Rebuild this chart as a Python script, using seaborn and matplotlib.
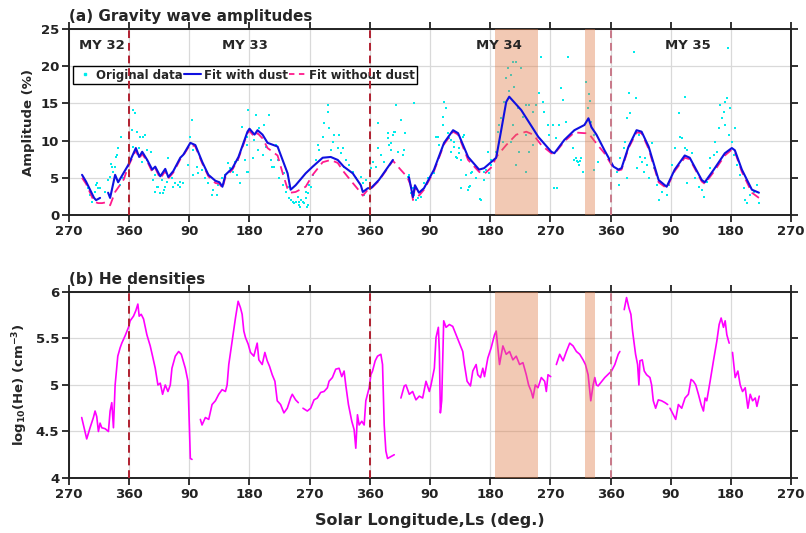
import numpy as np
import pandas as pd
import matplotlib
import matplotlib.pyplot as plt
from matplotlib.lines import Line2D
import seaborn as sns


matplotlib.use('Agg')

nan = np.nan

# cumulative solar longitude (deg.): 270 = MY 32 Ls 270, 360 = MY 33 start, ...
gw_ls = [
    301.5, 298.5, 304.5, 312, 313.5, 324, 328.5, 331.5, 334.5, 342,
    343.5, 348, 339, 336, 351, 346.5, 316.5, 311, 309, 333,
    341, 366, 369, 372, 376.5, 381, 384, 375, 379.5, 387,
    393, 399, 399, 406.5, 409.5, 414, 418.5, 424.5, 429, 433.5,
    436.5, 441, 403.5, 411, 364.5, 366, 387, 396, 402, 412,
    417, 426, 436.5, 454.5, 451.5, 456, 448.5, 456, 462, 463.5,
    469.5, 474, 478.5, 484.5, 486, 492, 493.5, 499.5, 504, 508.5,
    511.5, 516, 519, 522, 523.5, 526.5, 529.5, 534, 537, 537,
    538.5, 549, 561, 568.5, 536, 546, 552, 564, 571.5, 576,
    582, 591, 597, 601.5, 606, 616.5, 621, 627, 631.5, 615,
    612, 628, 553.5, 544.5, 538.5, 559.5, 573, 579, 583.5, 589.5,
    594, 598.5, 604.5, 609, 613.5, 619.5, 613.5, 624, 626, 624,
    628.5, 634.5, 639, 642, 643.5, 649.5, 651, 657, 658, 658.5,
    664.5, 661.5, 666, 672, 673.5, 676.5, 679.5, 681, 684, 688.5,
    694.5, 699, 706.5, 709.5, 711, 714, 721.5, 724.5, 729, 732,
    736.5, 741, 747, 748.5, 751.5, 754.5, 756, 759, 762, 771,
    778.5, 784.5, 786, 792, 796.5, 801, 807, 758, 772, 766.5,
    741, 786, 732, 747, 751.5, 770, 777, 781.5, 789, 797,
    816, 822, 829.5, 831, 837, 841.5, 846, 849, 853.5, 859.5,
    856.5, 867, 868.5, 867, 871.5, 879, 886.5, 891, 894, 901.5,
    898.5, 819, 823.5, 829.5, 834, 838.5, 841.5, 846, 850, 853.5,
    861, 856.5, 864, 870, 873, 879, 885, 891, 897, 901.5,
    909, 912, 916.5, 921, 924, 927, 931.5, 934.5, 939, 936,
    928.5, 946.5, 942, 949.5, 954, 958.5, 964.5, 969, 976.5, 973.5,
    979.5, 981, 987, 988.5, 994.5, 999, 996, 1006.5, 1009.5, 1014,
    1017, 1003.5, 1024.5, 1029, 1032, 1033.5, 1036.5, 1039.5, 1044, 1047,
    1048.5, 1051.5, 1056, 1062, 954, 958.5, 964.5, 943.5, 954, 934.5,
    931.5, 919.5, 913.5, 939, 1000, 1050, 1026, 1030.5, 1035, 1056,
    1089, 1092, 1093.5, 1099.5, 1101, 1104, 1107, 1108.5, 1114.5, 1117.5,
    1122, 1123.5, 1126.5, 1129.5, 1131, 1134, 1137, 1141.5, 1144.5, 1149,
    1152, 1156.5, 1164, 1167, 1171.5, 1176, 1182, 1183.5, 1186.5, 1191,
    1191, 1194, 1201.5, 1194, 1206, 1212, 1216.5, 1219.5, 1224, 1228.5,
    1234.5, 1239, 1243.5, 1246.5, 1249.5, 1251, 1254, 1255.5, 1257, 1258.5,
    1261.5, 1264.5, 1266, 1269, 1273.5, 1279.5, 1281, 1284, 1288.5, 1294.5,
    1299, 1302, 1252, 1242, 1236, 1228.5, 1104, 1119,
]
gw_amp = [
    2.7, 3.6, 1.7, 4.3, 3.6, 3.1, 4.7, 5.1, 6.5, 8.1,
    9.0, 10.5, 6.5, 5.8, 5.0, 4.0, 3.6, 4.0, 3.1, 6.8,
    7.8, 14.1, 13.7, 11.2, 10.5, 10.5, 10.8, 9.0, 7.1, 8.7,
    8.5, 5.4, 3.1, 3.0, 4.7, 3.8, 7.7, 5.0, 4.3, 4.0,
    4.4, 4.3, 3.8, 3.0, 11.4, 9.2, 7.4, 4.7, 3.8, 3.4,
    4.4, 3.8, 3.8, 12.8, 10.5, 8.7, 6.7, 5.4, 6.5, 5.6,
    6.1, 5.0, 4.3, 2.7, 3.4, 2.7, 4.0, 5.0, 5.4, 7.0,
    6.3, 5.8, 7.1, 5.4, 7.4, 4.3, 11.8, 7.4, 5.8, 9.4,
    14.1, 13.5, 12.1, 13.5, 10.5, 10.1, 8.7, 9.2, 7.4, 6.5,
    7.4, 5.6, 3.8, 2.0, 1.6, 2.0, 1.6, 3.0, 3.8, 1.1,
    2.4, 1.3, 11.7, 7.7, 5.8, 8.1, 6.5, 9.4, 5.0, 4.0,
    3.1, 2.3, 1.7, 1.7, 1.7, 1.7, 1.3, 2.3, 1.1, 3.1,
    4.0, 5.4, 7.4, 9.4, 8.7, 10.5, 12.4, 14.8, 13.9, 11.7,
    9.8, 8.7, 10.8, 9.0, 10.8, 8.3, 9.0, 6.5, 7.4, 6.7,
    5.8, 5.0, 5.1, 4.3, 2.7, 4.7, 6.3, 7.1, 6.5, 9.0,
    8.1, 7.1, 10.4, 9.4, 8.7, 10.8, 11.2, 14.8, 8.5, 8.7,
    5.4, 3.6, 2.7, 2.3, 3.1, 4.3, 5.0, 11.2, 11.0, 12.8,
    19.9, 15.1, 12.4, 11.0, 9.7, 8.1, 5.1, 3.0, 2.0, 2.4,
    5.6, 10.5, 13.2, 15.2, 11.0, 10.1, 9.2, 7.8, 8.3, 10.5,
    7.4, 7.8, 3.8, 3.4, 5.6, 6.5, 2.0, 4.7, 6.1, 7.4,
    5.6, 10.5, 9.4, 12.1, 14.4, 10.4, 8.5, 9.8, 7.7, 9.0,
    10.8, 3.6, 5.4, 3.9, 5.8, 5.0, 2.1, 5.8, 8.5, 6.7,
    8.5, 11.2, 13.1, 15.2, 18.4, 19.8, 18.8, 20.5, 20.6, 17.2,
    16.6, 19.8, 14.4, 13.2, 14.8, 14.8, 13.9, 14.8, 21.3, 16.4,
    15.2, 13.9, 12.1, 10.8, 12.1, 10.4, 3.6, 17.1, 15.5, 12.5,
    21.3, 12.1, 9.0, 7.7, 7.1, 6.7, 7.7, 5.8, 17.9, 14.4,
    16.2, 12.5, 10.8, 7.1, 10.8, 8.5, 9.4, 8.5, 5.8, 12.1,
    9.8, 9.8, 12.1, 6.7, 3.6, 15.3, 7.4, 7.2, 7.3, 6.1,
    5.8, 4.0, 7.7, 9.0, 9.8, 13.1, 16.4, 13.7, 21.9, 15.7,
    10.8, 7.8, 7.1, 5.8, 7.7, 6.7, 5.0, 9.7, 6.3, 4.0,
    2.0, 3.1, 2.7, 4.0, 6.7, 9.0, 13.7, 10.5, 10.4, 15.9,
    9.0, 8.7, 8.3, 4.3, 5.0, 3.8, 3.4, 2.4, 4.4, 7.7,
    8.1, 8.5, 14.8, 13.1, 13.9, 12.1, 15.7, 22.5, 10.8, 14.4,
    9.8, 8.1, 11.7, 6.7, 5.4, 3.6, 2.0, 1.6, 2.7, 3.1,
    4.0, 1.6, 15.2, 11.7, 9.8, 6.3, 5.0, 6.3,
]

# fit with dust (nan = gap in the curve)
fit_dust_ls = [
    289.5, 295.5, 301.5, 307.5, 310.5, 316.5, nan,
    328.5, 331.5, 339, 343.5, 358.5, 370, 375, 379.5, 387, 394.5,
    399, 406.5, 414, 418.5, 426, 436.5, 441, 451.5, 459, 469.5,
    478.5, 489, 495, 499.5, 504, 514.5, 523.5, 537, 540, 547.5,
    552, 559.5, 567, 582, 597, 601.5, 609, 624, 634.5, 649.5,
    661.5, 672, 681, 694.5, 706.5, 709.5, 717, 721.5, 733.5, 754.5, nan,
    778.5, 784.5, 787.5, 793.5, 801, 816, 831, 844.5, 852, 867,
    883.5, 891, 909, 916.5, 924, 928.5, 946.5, 972, 991.5, 996,
    1011, 1026, 1041, 1047, 1051.5, 1059, 1071, 1084.5, 1092, 1096.5,
    1107, 1119, 1126.5, 1137, 1152, 1164, 1176, 1191, 1198.5, 1216.5,
    1221, 1234.5, 1251, 1261.5, 1266, 1276.5, 1291.5, 1302,
]
fit_dust_amp = [
    5.4, 4.5, 3.4, 2.3, 2.0, 2.3, nan,
    3.0, 2.3, 5.4, 4.4, 6.7, 9.0, 7.8, 8.5, 7.4, 6.1,
    6.5, 5.2, 6.2, 5.1, 5.9, 7.7, 8.1, 9.7, 9.4, 7.1,
    5.4, 4.6, 4.4, 3.8, 5.4, 6.3, 7.8, 11.2, 11.6, 10.8,
    11.4, 10.8, 9.7, 9.2, 5.6, 3.4, 4.0, 5.6, 6.5, 7.7,
    7.8, 7.4, 6.5, 5.6, 4.0, 3.1, 3.6, 3.6, 4.7, 7.4, nan,
    5.1, 2.4, 4.0, 3.0, 3.6, 6.1, 9.7, 11.4, 11.0, 7.8,
    6.1, 6.3, 7.7, 11.4, 15.2, 15.9, 14.1, 10.5, 8.5, 8.3,
    10.1, 11.4, 12.1, 13.0, 11.8, 10.8, 8.7, 6.5, 6.1, 6.3,
    9.2, 11.4, 11.2, 9.2, 4.7, 3.8, 6.1, 8.0, 7.7, 4.7,
    4.4, 6.1, 8.3, 9.0, 8.7, 6.1, 3.4, 3.0,
]

# fit without dust
fit_nodust_ls = [
    289.5, 295.5, 301.5, 307.5, 313.5, 319.5, 325, 331.5, 339, 346,
    352, 358.5, 370, 375, 379.5, 387, 394.5, 399, 406.5, 414,
    418.5, 426, 436.5, 441, 451.5, 459, 469.5, 478.5, 489, 495,
    499.5, 504, 514.5, 523.5, 537, 540, 547.5, 552, 559.5, 567,
    582, 590, 597, 601.5, 609, 624, 634.5, 649.5, 661.5, 672,
    681, 694.5, 706.5, 709.5, 717, 721.5, 733.5, 754.5, 766, 776,
    781, 784.5, 787.5, 793.5, 801, 816, 831, 844.5, 852, 867,
    883.5, 891, 903, 909, 924, 939, 954, 964.5, 976.5, 991.5,
    996, 1011, 1026, 1041, 1047, 1059, 1071, 1084.5, 1092, 1096.5,
    1107, 1119, 1126.5, 1137, 1152, 1164, 1176, 1191, 1198.5, 1216.5,
    1221, 1234.5, 1251, 1261.5, 1266, 1276.5, 1291.5, 1302,
]
fit_nodust_amp = [
    5.0, 4.2, 3.0, 1.8, 1.6, 1.6, 1.7, 1.3, 3.1, 4.0,
    4.8, 6.5, 8.7, 7.6, 8.2, 7.2, 5.8, 6.3, 4.9, 5.9,
    4.9, 5.7, 7.5, 8.0, 9.5, 9.2, 6.9, 5.2, 4.3, 4.2,
    3.6, 5.1, 6.1, 7.6, 11.0, 11.3, 10.5, 11.0, 10.3, 9.0,
    8.0, 5.5, 3.5, 3.0, 3.1, 3.8, 5.4, 7.1, 7.4, 7.0,
    5.8, 4.3, 3.0, 2.6, 3.4, 3.5, 4.6, 7.3, 6.1, 5.1,
    4.0, 2.0, 3.7, 2.6, 3.4, 5.9, 9.5, 11.2, 10.8, 7.4,
    5.8, 5.5, 6.5, 7.8, 9.4, 10.8, 11.2, 10.8, 9.4, 8.3,
    8.2, 9.9, 11.1, 11.0, 11.0, 9.6, 8.3, 6.3, 6.0, 6.1,
    9.0, 11.1, 11.0, 8.9, 4.4, 3.6, 5.9, 7.7, 7.5, 4.5,
    4.2, 5.8, 8.0, 8.8, 8.5, 5.8, 3.0, 2.3,
]

# log10 He density (nan = data gap)
he_ls = [
    289, 296.5, 301.5, 306.5, 309, 311.5, 314, 316.5, 319, 324,
    329, 331.5, 334, 336.5, 339, 343, 346.5, 349, 354, 359,
    361.5, 366.5, 370, 373, 375, 378, 381.5, 386.5, 391.5, 395,
    399, 403, 406.5, 410, 414, 418, 421.5, 424, 429, 434,
    438, 444, 448, 450, 451.5, 454, nan,
    466.5, 469, 474, 479, 484, 489, 494, 499, 504, 506.5,
    509, 514, 519, 523, 526.5, 529, 531.5, 534, 538, 541.5,
    546.5, 551.5, 554, 559, 563, 566.5, 570, 574, 578, 581.5,
    586.5, 591.5, 596.5, 601.5, 604, 609, 613, nan,
    620, 626.5, 631.5, 636.5, 641.5, 646.5, 651.5, 656.5, 659, 664,
    669, 674, 678, 681.5, 684, 688, 693, 696.5, 699, 701.5,
    704, 708, 711.5, 714, 719, 721.5, 724, 728, 731.5, 736.5,
    739, 741.5, 744, 746.5, 751.5, 756.5, nan,
    766.5, 771.5, 774, 779, 784, 789, 794, 799, 804, 809,
    811.5, 816.5, 819, 822.5, 824, 825.5, 827.5, 830.5, 834, 839,
    844, 849, 854, 859, 861.5, 865.5, 870.5, 874, 879, 881.5,
    885.5, 889, 891.5, 896.5, 901.5, 906.5, 909, 911.5, 914, 919,
    924, 929, 934, 939, 944, 949, 954, 957.5, 961.5, 964,
    967.5, 971.5, 976.5, 981.5, 984, 986.5, 990.5, nan,
    999, 1004, 1009, 1014, 1019, 1024, 1029, 1034, 1039, 1042.5,
    1046.5, 1050.5, 1054, 1056.5, 1059, 1061.5, 1071.5, 1081.5, 1086.5, 1091.5,
    1094, nan,
    1100.5, 1104, 1107.5, 1110.5, 1113, 1115.5, 1117.5, 1120.5, 1122.5, 1124,
    1127.5, 1130.5, 1134, 1139, 1141.5, 1144, 1147.5, 1151.5, 1156.5, 1161.5,
    1165.5, nan,
    1169, 1174, 1177.5, 1181.5, 1186.5, 1191.5, 1196.5, 1200.5, 1204, 1207.5,
    1211.5, 1215.5, 1219, 1221.5, 1224, 1229, 1234, 1239, 1242.5, 1245.5,
    1249, 1251.5, 1254, 1257.5, nan,
    1262.5, 1266.5, 1270.5, 1274, 1277.5, 1281.5, 1285.5, 1289, 1292.5, 1296.5,
    1299, 1302.5,
]
he_log = [
    4.65, 4.42, 4.54, 4.65, 4.72, 4.66, 4.50, 4.59, 4.54, 4.53,
    4.50, 4.72, 4.81, 4.54, 5.00, 5.31, 5.40, 5.45, 5.53, 5.62,
    5.69, 5.74, 5.80, 5.87, 5.74, 5.76, 5.71, 5.54, 5.42, 5.31,
    5.18, 5.00, 5.02, 4.90, 5.00, 4.93, 5.00, 5.18, 5.31, 5.36,
    5.33, 5.18, 5.04, 4.57, 4.21, 4.20, nan,
    4.63, 4.57, 4.65, 4.63, 4.79, 4.83, 4.90, 4.95, 4.93, 5.00,
    5.22, 5.47, 5.72, 5.90, 5.83, 5.76, 5.58, 5.51, 5.44, 5.35,
    5.31, 5.45, 5.27, 5.22, 5.35, 5.26, 5.20, 5.11, 5.04, 4.83,
    4.79, 4.70, 4.75, 4.86, 4.90, 4.84, 4.81, nan,
    4.75, 4.72, 4.75, 4.84, 4.86, 4.92, 4.93, 4.97, 5.04, 5.08,
    5.17, 5.18, 5.09, 5.15, 5.00, 4.79, 4.61, 4.52, 4.32, 4.68,
    4.57, 4.61, 4.57, 4.83, 4.97, 5.11, 5.15, 5.26, 5.31, 5.33,
    5.22, 4.57, 4.29, 4.21, 4.23, 4.25, nan,
    4.86, 4.99, 5.00, 4.90, 4.93, 4.84, 4.88, 4.86, 5.04, 4.93,
    5.00, 5.18, 5.51, 5.62, 5.36, 4.70, 4.83, 5.69, 5.62, 5.65,
    5.63, 5.54, 5.45, 5.36, 5.22, 5.04, 4.99, 5.15, 5.22, 5.11,
    5.08, 5.18, 5.09, 5.29, 5.40, 5.54, 5.58, 5.40, 5.22, 5.42,
    5.33, 5.36, 5.27, 5.31, 5.22, 5.24, 5.11, 5.00, 4.93, 4.86,
    5.00, 4.97, 5.08, 5.04, 4.93, 5.11, 5.09, nan,
    5.22, 5.33, 5.26, 5.36, 5.45, 5.42, 5.36, 5.33, 5.27, 5.22,
    5.11, 4.83, 5.00, 5.08, 5.00, 4.99, 5.08, 5.15, 5.22, 5.33,
    5.36, nan,
    5.81, 5.94, 5.83, 5.76, 5.58, 5.44, 5.33, 5.22, 5.00, 5.26,
    5.27, 5.15, 5.11, 5.08, 5.00, 4.83, 4.75, 4.84, 4.83, 4.81,
    4.79, nan,
    4.75, 4.68, 4.63, 4.79, 4.75, 4.86, 4.90, 5.06, 5.04, 5.00,
    4.90, 4.79, 4.72, 4.86, 4.83, 5.04, 5.26, 5.47, 5.65, 5.72,
    5.62, 5.69, 5.54, 5.45, nan,
    5.35, 5.08, 5.15, 5.00, 4.93, 4.97, 4.75, 4.90, 4.83, 4.86,
    4.77, 4.88,
]

year_bounds = [360, 720, 1080]
dust_storms = [(907.5, 972), (1042.5, 1057.5)]
year_labels = ['MY 32', 'MY 33', 'MY 34', 'MY 35']
year_label_ls = [318.5, 532.5, 913.5, 1195.5]
tick_ls = list(range(270, 1351, 90))


def segments(ls, vals):
    """Turn a nan-separated series into a frame with a segment id."""
    df = pd.DataFrame({'ls': ls, 'val': vals})
    df['seg'] = df['ls'].isna().cumsum()
    return df.dropna()


def style_axis(ax, ylim, yticks, yticklabels):
    """Box, outward ticks on all sides, grid and Ls tick labels."""
    ax.set_xlim(270, 1350)
    ax.set_ylim(*ylim)
    ax.set_xticks(tick_ls, [str(v % 360 if v % 360 else 360) for v in tick_ls])
    ax.set_yticks(yticks, yticklabels)
    ax.grid(True, color='#d9d9d9', lw=0.9)
    ax.tick_params(direction='out', length=5, width=1.3, color='#222222',
                   bottom=True, left=True, top=True, right=True,
                   labelsize=9.5, labelcolor='#222222', pad=2)
    for lab in ax.get_xticklabels() + ax.get_yticklabels():
        lab.set_fontweight('bold')
    ax.set_xlabel('')


def add_markers(ax):
    """Mars year boundaries and dust storm periods."""
    for i, b in enumerate(year_bounds):
        col = '#b02030' if i < 2 else '#c87888'
        ax.axvline(b, color=col, ls=(0, (4, 2.5)), lw=1.4, zorder=8)
    for lo, hi in dust_storms:
        ax.axvspan(lo, hi, color='#e07a45', alpha=0.4, lw=0, zorder=4)


def main():
    sns.set_theme(style='ticks', rc={'axes.linewidth': 1.4,
                                     'axes.edgecolor': '#222222'})
    plt.rcParams['font.family'] = ['DejaVu Sans']
    plt.rcParams['mathtext.default'] = 'bf'

    fig = plt.figure(figsize=(8.06, 5.33), dpi=100)
    ax_a = fig.add_axes([0.0856, 0.5966, 0.8958, 0.349])
    ax_b = fig.add_axes([0.0856, 0.1032, 0.8958, 0.349])

    # (a) gravity wave amplitudes
    gw = pd.DataFrame({'ls': gw_ls, 'amp': gw_amp})
    sns.scatterplot(data=gw, x='ls', y='amp', ax=ax_a, color='#00ecec', s=4,
                    marker='s', linewidth=0, zorder=2)
    sns.lineplot(data=segments(fit_dust_ls, fit_dust_amp), x='ls', y='val',
                 units='seg', estimator=None, sort=False, ax=ax_a,
                 color='#1010e0', lw=1.5, zorder=5)
    sns.lineplot(data=segments(fit_nodust_ls, fit_nodust_amp), x='ls', y='val',
                 units='seg', estimator=None, sort=False, ax=ax_a,
                 color='#ff1a8c', lw=1.3, linestyle=(0, (5, 3)), zorder=4)
    add_markers(ax_a)
    style_axis(ax_a, (0, 25), list(range(0, 26, 5)), [str(v) for v in range(0, 26, 5)])
    ax_a.set_ylabel('Amplitude (%)', fontsize=9.5, fontweight='bold')
    ax_a.set_title('(a) Gravity wave amplitudes', loc='left', fontsize=11,
                   fontweight='bold', pad=6)
    for lab, x in zip(year_labels, year_label_ls):
        ax_a.text(x, 22.8, lab, ha='center', va='center', fontsize=9.5,
                  fontweight='bold', zorder=6)
    handles = [
        Line2D([], [], ls='none', marker='s', ms=2, color='#00ecec'),
        Line2D([], [], color='#1010e0', lw=1.5),
        Line2D([], [], color='#ff1a8c', lw=1.3, ls=(0, (3, 2.5))),
    ]
    leg = ax_a.legend(handles, ['Original data', 'Fit with dust', 'Fit without dust'],
                      loc='upper left', bbox_to_anchor=(0.006, 0.80), ncol=3,
                      frameon=True, fancybox=False, borderpad=0.2,
                      handlelength=1.5, handletextpad=0.2, columnspacing=0.1,
                      borderaxespad=0, prop={'weight': 'bold', 'size': 8.5})
    leg.get_frame().set_edgecolor('black')
    leg.get_frame().set_linewidth(1.0)
    leg.get_frame().set_alpha(1)
    leg.set_zorder(7)

    # (b) He densities
    sns.lineplot(data=segments(he_ls, he_log), x='ls', y='val', units='seg',
                 estimator=None, sort=False, ax=ax_b, color='#ff00ff', lw=1.2,
                 zorder=2)
    add_markers(ax_b)
    style_axis(ax_b, (4, 6), [4, 4.5, 5, 5.5, 6], ['4', '4.5', '5', '5.5', '6'])
    ax_b.set_ylabel(r'log$_{10}$(He) (cm$^{-3}$)', fontsize=9.5, fontweight='bold')
    ax_b.set_title('(b) He densities', loc='left', fontsize=11,
                   fontweight='bold', pad=6)
    ax_b.set_xlabel('Solar Longitude,Ls (deg.)', fontsize=11.5, fontweight='bold',
                    labelpad=9)

    fig.savefig('out.png', dpi=100)
    plt.close(fig)


if __name__ == "__main__":
    main()
